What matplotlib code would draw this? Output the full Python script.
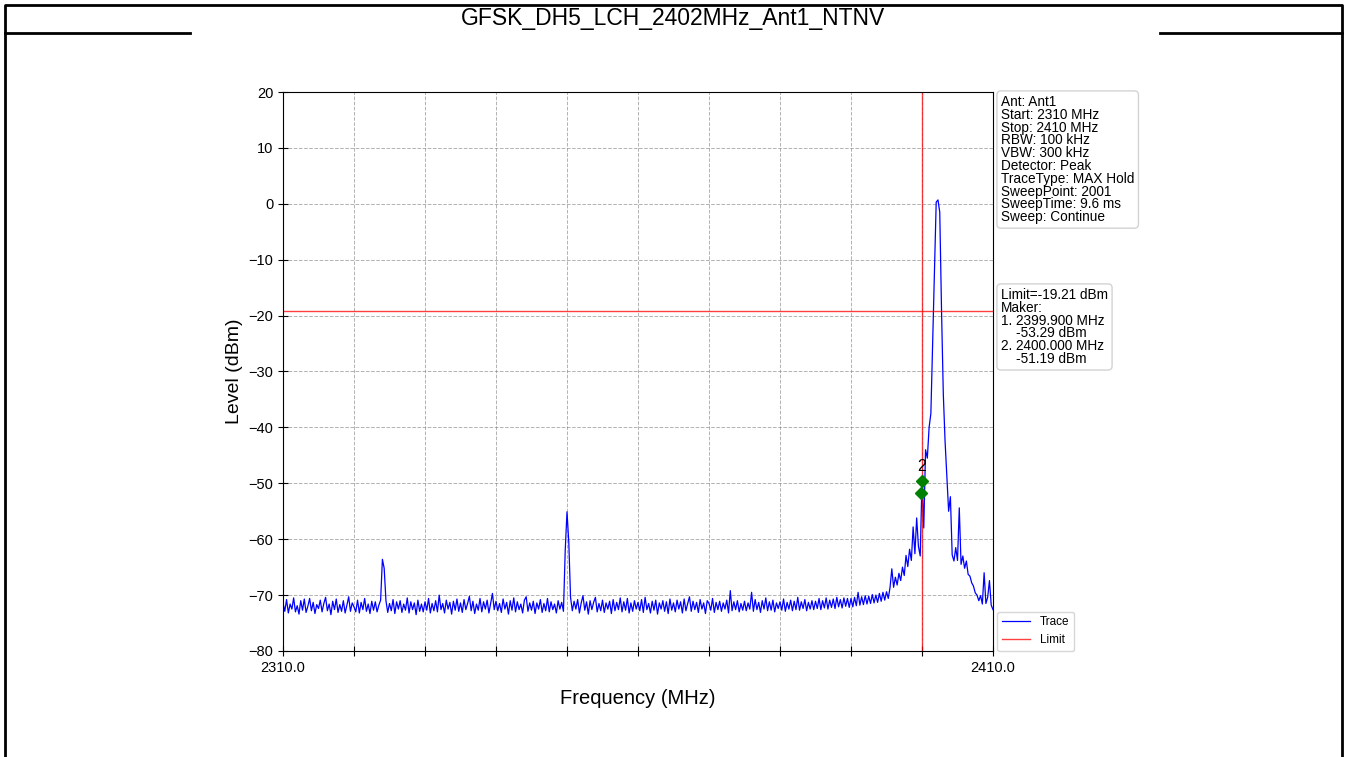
import matplotlib
matplotlib.use("Agg")
import matplotlib.pyplot as plt
import numpy as np

plt.rcParams['font.family'] = ['Liberation Sans', 'DejaVu Sans']

title = "GFSK_DH5_LCH_2402MHz_Ant1_NTNV"
start_mhz = 2310.0
stop_mhz = 2410.0
limit_dbm = -19.21

# trace level (dBm), every 0.25 MHz from 2310 to 2410
levels = [
    -71.4, -72.9, -70.8, -73.2, -71.6, -72.5, -70.5, -73.0, -71.9, -73.4, -71.0, -72.7, -70.7, -73.1, -72.0, -70.6, -72.8, -71.3, -73.3, -71.7,
    -72.4, -70.9, -73.0, -71.5, -70.4, -72.8, -71.6, -73.5, -71.1, -72.6, -70.7, -73.1, -71.7, -72.9, -71.0, -73.2, -71.8, -70.3, -72.9, -71.4,
    -72.1, -73.0, -70.9, -73.2, -71.3, -72.6, -70.6, -72.9, -71.6, -73.3, -71.1, -72.7, -71.2, -73.0, -71.8, -70.9, -63.6, -65.2, -71.0, -73.1,
    -71.5, -72.8, -70.8, -73.3, -71.2, -72.5, -71.0, -73.1, -71.6, -72.7, -70.5, -73.2, -71.2, -72.6, -71.4, -73.5, -70.9, -72.9, -71.6, -73.0,
    -71.2, -72.7, -70.6, -73.2, -71.5, -72.8, -71.0, -73.0, -70.0, -72.6, -71.5, -73.2, -70.9, -72.5, -71.3, -73.4, -71.1, -72.7, -70.7, -72.9,
    -71.4, -73.1, -70.8, -72.6, -71.5, -70.2, -72.8, -71.1, -73.3, -71.6, -72.7, -70.6, -73.0, -71.2, -72.5, -70.9, -73.2, -71.5, -69.7, -72.6,
    -71.1, -72.8, -71.5, -73.1, -70.7, -72.5, -71.3, -73.4, -71.0, -72.7, -70.5, -73.0, -71.2, -72.6, -71.6, -73.2, -70.9, -70.3, -72.9, -71.4,
    -72.7, -71.1, -73.3, -71.4, -72.5, -70.8, -73.1, -71.5, -72.8, -70.6, -73.0, -71.2, -72.6, -71.6, -73.2, -71.0, -72.5, -71.3, -72.9, -62.0,
    -55.1, -60.5, -70.4, -72.8, -71.1, -72.5, -70.8, -73.2, -71.4, -70.1, -72.7, -71.2, -73.4, -71.0, -72.6, -71.3, -70.4, -73.0, -71.5, -72.8,
    -70.9, -73.1, -71.4, -72.5, -71.1, -73.3, -70.8, -72.8, -71.3, -72.6, -70.5, -73.0, -71.2, -72.7, -70.6, -73.2, -71.4, -72.9, -71.0, -72.5,
    -71.3, -72.8, -70.8, -73.1, -70.4, -72.6, -71.5, -73.2, -71.1, -72.7, -70.9, -73.4, -71.4, -72.5, -71.0, -72.9, -71.2, -73.3, -70.7, -72.7,
    -71.4, -73.0, -70.9, -72.5, -71.2, -73.2, -70.7, -72.8, -71.5, -70.3, -72.9, -71.1, -72.6, -71.3, -73.1, -70.8, -72.5, -71.4, -73.3, -71.0,
    -71.5, -72.7, -70.6, -73.1, -71.3, -72.6, -71.1, -72.9, -71.4, -72.5, -70.9, -73.2, -69.2, -72.8, -71.2, -72.6, -71.0, -73.0, -71.5, -72.7,
    -71.1, -72.8, -71.4, -72.5, -69.5, -72.9, -70.8, -72.6, -71.3, -73.1, -71.0, -72.5, -70.5, -72.8, -71.2, -72.7, -70.9, -73.0, -71.4, -72.4,
    -71.2, -72.7, -70.7, -72.9, -71.3, -72.5, -70.9, -72.8, -71.1, -72.6, -70.4, -72.7, -71.2, -72.4, -70.8, -72.8, -71.3, -72.5, -71.0, -72.6,
    -71.1, -72.4, -70.6, -72.6, -71.0, -72.3, -70.5, -72.5, -70.9, -72.2, -70.7, -72.4, -70.4, -72.1, -70.8, -72.3, -70.5, -72.0, -70.6, -72.2,
    -70.6, -72.1, -70.4, -71.9, -69.5, -71.8, -70.3, -71.7, -70.1, -71.6, -70.2, -71.5, -69.9, -71.4, -70.0, -71.3, -69.7, -71.1, -69.5, -70.9,
    -69.4, -70.6, -68.6, -65.3, -68.6, -66.8, -68.2, -66.1, -67.4, -65.0, -66.5, -62.9, -64.9, -61.8, -63.8, -57.8, -62.6, -56.2, -61.3, -63.0,
    -49.5, -58.0, -44.0, -45.5, -40.0, -37.5, -25.0, -12.0, 0.3, 0.7, -1.5, -19.0, -34.0, -42.5, -48.8, -55.0, -52.4, -62.8, -63.9, -61.5,
    -63.8, -54.4, -64.5, -63.0, -65.2, -63.9, -66.3, -66.6, -67.8, -68.4, -69.6, -70.0, -71.0, -70.1, -71.6, -66.0, -71.5, -70.4, -67.4, -71.8,
    -72.6,
]
freqs = np.linspace(start_mhz, stop_mhz, len(levels))

marker_freqs = [2399.9, 2400.0]
marker_levels = [-51.8, -49.6]

info_text = ("Ant: Ant1\nStart: 2310 MHz\nStop: 2410 MHz\nRBW: 100 kHz\nVBW: 300 kHz\n"
             "Detector: Peak\nTraceType: MAX Hold\nSweepPoint: 2001\nSweepTime: 9.6 ms\nSweep: Continue")
marker_text = ("Limit=-19.21 dBm\nMaker:\n1. 2399.900 MHz\n    -53.29 dBm\n"
               "2. 2400.000 MHz\n    -51.19 dBm")

W, H = 1346, 757
fig = plt.figure(figsize=(W / 100, H / 100), dpi=100)

# outer frame and title bar
frame = fig.add_axes([0, 0, 1, 1])
frame.set_xlim(0, W)
frame.set_ylim(H, 0)
frame.axis('off')
frame.plot([5, 5, 1342, 1342], [757, 5, 5, 757], color='black', lw=2)
frame.plot([5, 190], [33, 33], color='black', lw=2)
frame.plot([1160, 1342], [33, 33], color='black', lw=2)
frame.text(673, 19, title, ha='center', va='center', fontsize=16.5)

ax = fig.add_axes([283 / W, (H - 651) / H, 710 / W, 559 / H])
ax.plot(freqs, levels, color='blue', lw=0.9, label='Trace')
ax.axhline(limit_dbm, color='red', lw=1, alpha=0.75, label='Limit')
ax.axvline(2400.0, color='red', lw=1, alpha=0.75)
ax.plot(marker_freqs, marker_levels, 'D', color='green', markersize=6.5, linestyle='none')
ax.text(marker_freqs[1], marker_levels[1] + 1.2, "2", ha='center', va='bottom', fontsize=11.5)

ax.set_xlim(start_mhz, stop_mhz)
ax.set_ylim(-80, 20)
ax.set_xticks(np.arange(2310, 2411, 10))
ax.set_xticklabels(["2310.0"] + [""] * 9 + ["2410.0"])
ax.set_yticks(np.arange(-80, 21, 10))
ax.tick_params(direction='inout', length=7, labelsize=10.5)
ax.grid(True, linestyle='--', color='gray', alpha=0.6, lw=0.7)
ax.set_xlabel("Frequency (MHz)", fontsize=14.5, labelpad=10)
ax.set_ylabel("Level (dBm)", fontsize=14)

box = dict(boxstyle='round,pad=0.3', fc='white', ec='lightgray')
fig.text(1001 / W, 1 - 95 / H, info_text, ha='left', va='top', fontsize=9.8, linespacing=0.89, bbox=box)
fig.text(1001 / W, 1 - 288 / H, marker_text, ha='left', va='top', fontsize=9.8, linespacing=0.89, bbox=box)
ax.legend(loc='lower left', bbox_to_anchor=(1.006, 0.0), borderaxespad=0, fontsize=8.5, handlelength=2.4)

fig.savefig("out.png", dpi=100)
